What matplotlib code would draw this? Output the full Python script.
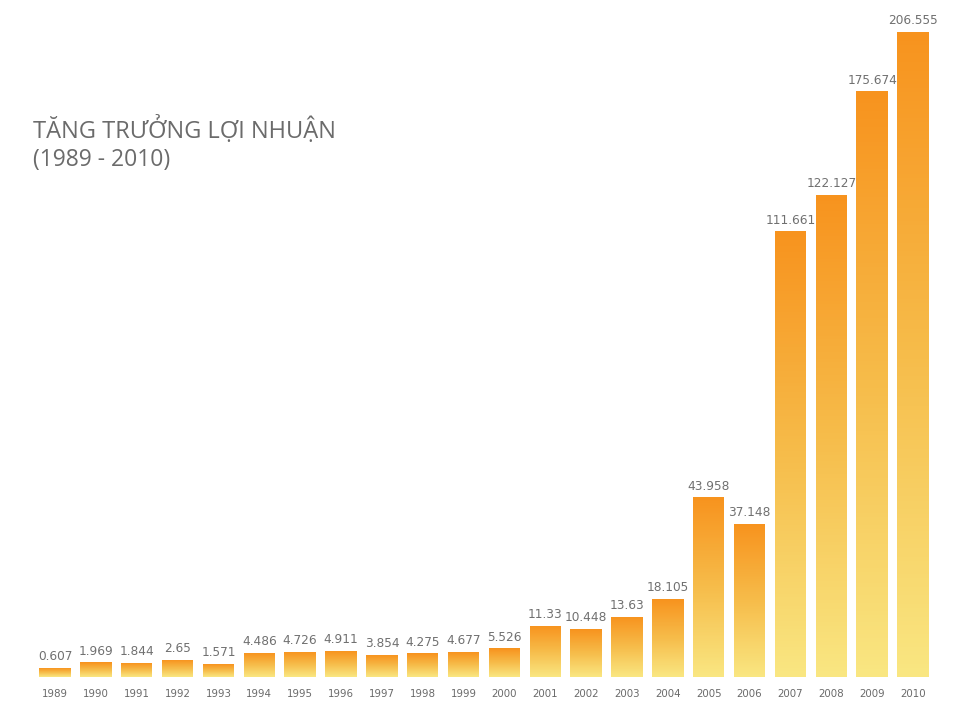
import numpy as np
import matplotlib
matplotlib.use("Agg")
import matplotlib.pyplot as plt
from matplotlib.colors import LinearSegmentedColormap

# Profit by year
years = ["1989", "1990", "1991", "1992", "1993", "1994", "1995", "1996",
         "1997", "1998", "1999", "2000", "2001", "2002", "2003", "2004",
         "2005", "2006", "2007", "2008", "2009", "2010"]
profits = [0.607, 1.969, 1.844, 2.65, 1.571, 4.486, 4.726, 4.911,
           3.854, 4.275, 4.677, 5.526, 11.33, 10.448, 13.63, 18.105,
           43.958, 37.148, 111.661, 122.127, 175.674, 206.555]
value_labels = ["0.607", "1.969", "1.844", "2.65", "1.571", "4.486", "4.726",
                "4.911", "3.854", "4.275", "4.677", "5.526", "11.33", "10.448",
                "13.63", "18.105", "43.958", "37.148", "111.661", "122.127",
                "175.674", "206.555"]

title_line1 = "TĂNG TRƯỞNG LỢI NHUẬN"
title_line2 = "(1989 - 2010)"

plt.rcParams["font.family"] = ["DejaVu Sans"]
TITLE_FONT = ["Open Sans", "DejaVu Sans"]

# Value axis: linear, with the upper range compressed so the tallest bars fit
BREAK, SQUEEZE = 120.0, 0.49


def fwd(v):
    v = np.asarray(v, dtype=float)
    return np.where(v <= BREAK, v, BREAK + (v - BREAK) * SQUEEZE)


def inv(t):
    t = np.asarray(t, dtype=float)
    return np.where(t <= BREAK, t, BREAK + (t - BREAK) / SQUEEZE)


W, H, DPI = 966, 702, 100
fig = plt.figure(figsize=(W / DPI, H / DPI), dpi=DPI)
ax = fig.add_axes([0, 0, 1, 1])
ax.set_yscale("function", functions=(fwd, inv))

px_per_unit = 3.93          # vertical pixels per unit in the linear part
floor = -1.73               # bars rise from slightly below zero
base_px = 25                # baseline height above the figure bottom
t_bottom = floor - base_px / px_per_unit
t_top = t_bottom + H / px_per_unit

pitch = 40.86
x0_px = 55
xlim = (-x0_px / pitch, W / pitch - x0_px / pitch)
ylim = (float(inv(t_bottom)), float(inv(t_top)))
ax.set_xlim(*xlim)
ax.set_ylim(*ylim)
ax.set_autoscale_on(False)
ax.axis("off")

grad = LinearSegmentedColormap.from_list(
    "bar_grad", ["#F9E681", "#F6BC4A", "#F7931E"])

# Each bar is filled with a vertical gradient: thin bands that are evenly
# spaced on screen, found through the axis' own scale transform.
scale_tr = ax.yaxis.get_transform()
scale_inv = scale_tr.inverted()
n_bands = 150

bar_w = 0.77
x = np.arange(len(years))
for xi, v, lab, yr in zip(x, profits, value_labels, years):
    t0, t1 = scale_tr.transform(np.array([floor, v]))
    edges = scale_inv.transform(np.linspace(t0, t1, n_bands + 1))
    colors = grad(np.linspace(0, 1, n_bands))
    ax.bar(np.full(n_bands, xi), np.diff(edges), bottom=edges[:-1],
           width=bar_w, color=colors, linewidth=0, antialiased=False,
           zorder=2)
    ax.annotate(lab, (xi, v), xytext=(0, 3.5), textcoords="offset points",
                ha="center", va="bottom", fontsize=8.7, color="#707070")
    ax.annotate(yr, (xi, floor), xytext=(0, -8.5), textcoords="offset points",
                ha="center", va="top", fontsize=7.4, color="#6a6a6a",
                annotation_clip=False)

ax.set_xlim(*xlim)
ax.set_ylim(*ylim)

fig.text(33 / W, 1 - 138 / H, title_line1, fontsize=17, color="#6b6b6b",
         ha="left", va="baseline", family=TITLE_FONT)
fig.text(33 / W, 1 - 166 / H, title_line2, fontsize=16.5, color="#6b6b6b",
         ha="left", va="baseline", family=TITLE_FONT)

fig.savefig("out.png", dpi=DPI, facecolor="white")
